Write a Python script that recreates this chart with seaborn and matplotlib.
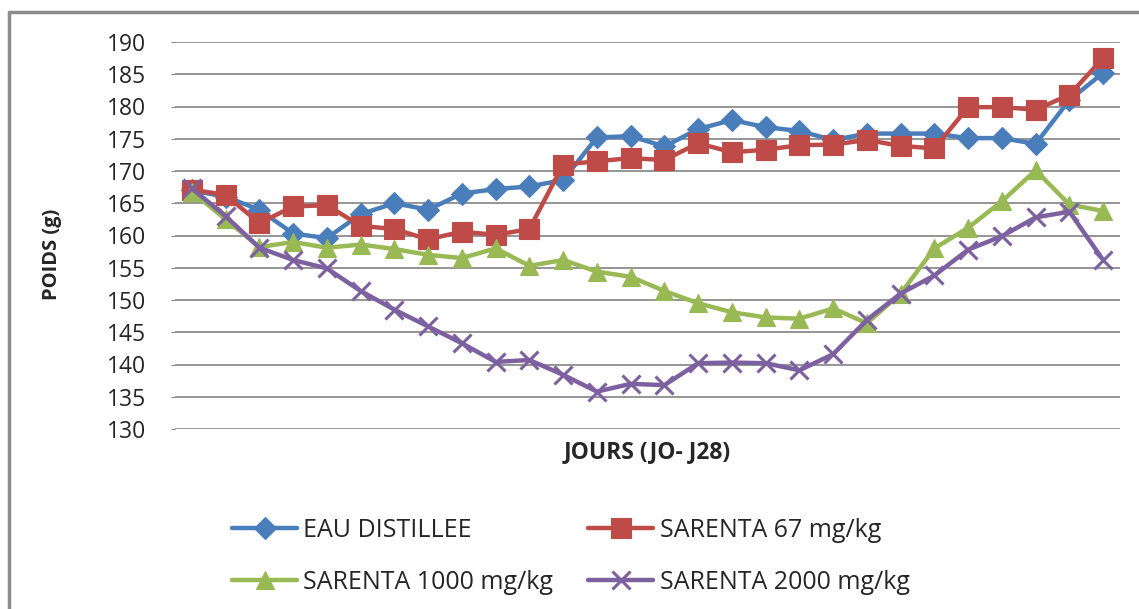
import seaborn as sns
import matplotlib.pyplot as plt
import pandas as pd
from matplotlib.lines import Line2D

# data (J0 - J27)
jours = list(range(28))
eau = [167.0, 166.0, 164.0, 160.3, 159.6, 163.3, 165.0, 164.0, 166.5, 167.2,
       167.6, 168.6, 175.2, 175.4, 173.8, 176.5, 177.9, 176.8, 176.2, 174.8,
       175.8, 175.8, 175.8, 175.1, 175.1, 174.2, 181.0, 185.2]
s67 = [167.1, 166.3, 161.9, 164.5, 164.7, 161.5, 161.0, 159.4, 160.6, 160.1,
       161.0, 171.0, 171.5, 172.0, 171.7, 174.3, 172.9, 173.3, 174.0, 174.1,
       174.8, 173.9, 173.5, 179.9, 179.9, 179.5, 181.8, 187.5]
s1000 = [166.8, 162.5, 158.2, 159.0, 158.1, 158.6, 157.9, 157.0, 156.5, 158.0,
         155.3, 156.2, 154.4, 153.6, 151.4, 149.5, 148.1, 147.3, 147.1, 148.7,
         146.4, 151.0, 158.0, 161.2, 165.3, 170.1, 164.8, 163.8]
s2000 = [167.3, 163.0, 158.1, 156.2, 154.9, 151.4, 148.5, 145.9, 143.3, 140.4,
         140.7, 138.4, 135.8, 137.0, 136.8, 140.2, 140.3, 140.2, 139.1, 141.6,
         146.9, 151.0, 153.8, 157.8, 159.9, 162.8, 163.7, 156.2]

series = [
    ("EAU DISTILLEE", eau, "#4A7EBB", "D", 11.5),
    ("SARENTA 67 mg/kg", s67, "#BE4B48", "s", 14),
    ("SARENTA 1000 mg/kg", s1000, "#98B954", "^", 13.5),
    ("SARENTA 2000 mg/kg", s2000, "#7D60A0", "x", 12.5),
]

sns.set_style("white")
plt.rcParams['font.family'] = ['Open Sans', 'DejaVu Sans']

fig = plt.figure(figsize=(11.39, 6.09), dpi=100)
ax = fig.add_axes([175 / 1139, 1 - 429 / 609, 945 / 1139, 387 / 609])

for name, vals, col, mk, ms in series:
    df = pd.DataFrame({"jour": jours, "poids": vals})
    sns.lineplot(data=df, x="jour", y="poids", ax=ax, color=col, linewidth=3.2,
                 marker=mk, markersize=ms, markeredgecolor=col,
                 markeredgewidth=2.2 if mk == "x" else 0.8, label=name)

ax.set_xlim(-0.5, 27.5)
ax.set_ylim(130, 190)
ax.set_yticks(range(130, 191, 5))
ax.set_xticks([])
ax.grid(axis="y", color="#8c8c8c", linewidth=1.3)
ax.set_axisbelow(True)
for s in ax.spines.values():
    s.set_visible(False)
ax.tick_params(axis="y", length=3, color="#8c8c8c", pad=18, labelsize=16.5, left=True)

ax.set_xlabel("JOURS (JO- J28)", fontsize=16.5, fontweight="bold", labelpad=8)
ax.set_ylabel("POIDS (g)", fontsize=14.5, fontweight="bold")
ax.yaxis.set_label_coords(-0.12, 0.452)

# legend: row-wise order like the original
handles, labels = ax.get_legend_handles_labels()
ax.get_legend().remove()
order = [0, 2, 1, 3]
fig.legend([handles[i] for i in order], [labels[i] for i in order],
           ncol=2, loc="upper left", bbox_to_anchor=(232 / 1139, 1 - 518 / 609),
           frameon=False, fontsize=18, handlelength=2.6, handletextpad=0.25,
           columnspacing=1.4, labelspacing=1.08, borderaxespad=0, borderpad=0)

# outer border (top and left only visible)
fig.add_artist(Line2D([9 / 1139, 9 / 1139], [0, 1 - 12 / 609], transform=fig.transFigure,
                      color="#8c8c8c", linewidth=2.5))
fig.add_artist(Line2D([9 / 1139, 1], [1 - 12 / 609, 1 - 12 / 609], transform=fig.transFigure,
                      color="#8c8c8c", linewidth=2.5))

fig.savefig("out.png", dpi=100)
